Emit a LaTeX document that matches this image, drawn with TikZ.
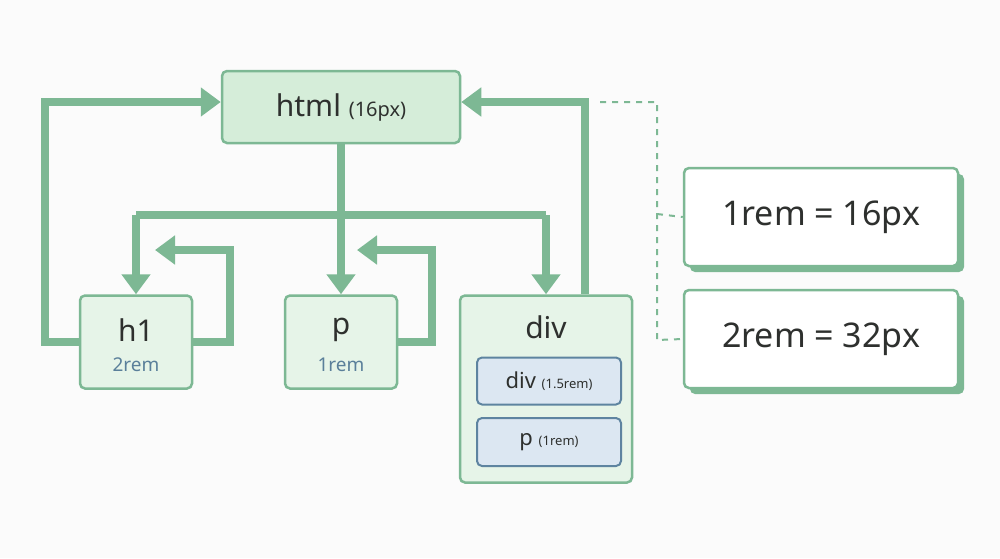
\documentclass[tikz,border=0pt]{standalone}
\usepackage{fontspec}
\setmainfont{Noto Sans}
\usetikzlibrary{arrows.meta}
\definecolor{gline}{HTML}{7DB894}
\definecolor{gfill}{HTML}{D5EDD9}
\definecolor{gfill2}{HTML}{E6F4E8}
\definecolor{bfill}{HTML}{DCE7F2}
\definecolor{bline}{HTML}{5E84A0}
\definecolor{txt}{HTML}{2E302E}
\definecolor{remc}{HTML}{5A7F9A}
\begin{document}
\begin{tikzpicture}[x=1pt,y=-1pt,
  box/.style={draw=gline,line width=2.5pt,rounded corners=5pt,fill=gfill,text=txt,font=\bfseries},
  inner/.style={draw=bline,line width=2pt,rounded corners=5pt,fill=bfill,text=txt,font=\bfseries},
  wire/.style={gline,line width=8pt},
  arr/.style={wire,-{Triangle[length=20pt,width=28pt]}},
  dashedline/.style={gline,line width=2pt,dash pattern=on 6pt off 6pt}]
\useasboundingbox (0,0) rectangle (1000,558);
\fill[white!97!gray] (0,0) rectangle (1000,558);
% boxes
\node[box,minimum width=238pt,minimum height=72pt] (html) at (341,107) {\fontsize{30}{30}\selectfont html \fontsize{20}{20}\selectfont(16px)};
\node[box,fill=gfill2,minimum width=112pt,minimum height=93pt] (h1) at (136,342) {};
\node[font=\bfseries\fontsize{30}{30}\selectfont,text=txt] (h1t) at (136,330) {h1};
\node[font=\bfseries\fontsize{19}{19}\selectfont,text=remc] (h1r) at (136,365) {2rem};
\node[box,fill=gfill2,minimum width=112pt,minimum height=93pt] (p) at (341,342) {};
\node[font=\bfseries\fontsize{30}{30}\selectfont,text=txt] (pt) at (341,330) {p};
\node[font=\bfseries\fontsize{19}{19}\selectfont,text=remc] (pr) at (341,365) {1rem};
\node[box,fill=gfill2,minimum width=172pt,minimum height=187pt] (div) at (546,389) {};
\node[font=\bfseries\fontsize{30}{30}\selectfont,text=txt] (divt) at (546,327) {div};
\node[inner,minimum width=144pt,minimum height=47pt] (idiv) at (549,381) {\fontsize{22}{22}\selectfont div \fontsize{13}{13}\selectfont(1.5rem)};
\node[inner,minimum width=144pt,minimum height=48pt] (ip) at (549,442) {\fontsize{22}{22}\selectfont p \fontsize{13}{13}\selectfont(1rem)};
% right boxes with shadow
\fill[gline,rounded corners=5pt] (690,174) rectangle (964,272);
\node[box,fill=white,minimum width=274pt,minimum height=98pt] (r1) at (821,217) {\fontsize{34}{34}\selectfont 1rem = 16px};
\fill[gline,rounded corners=5pt] (690,296) rectangle (964,394);
\node[box,fill=white,minimum width=274pt,minimum height=98pt] (r2) at (821,339) {\fontsize{34}{34}\selectfont 2rem = 32px};
% connectors
\coordinate (j) at (341,215);
\coordinate (jl) at (136,215);
\coordinate (jr) at (546,215);
\coordinate (y102) at (0,102);
\coordinate (x585) at (585,0);
\draw[wire] (html.south) -- (j);
\draw[wire] (jl) -- (jr);
\draw[arr] (jl) -- (h1.north);
\draw[arr] (j) -- (p.north);
\draw[arr] (jr) -- (div.north);
\draw[arr] (h1.west) -| (45,102) -- (html.west |- y102);
\draw[arr] (h1.east) -| (230,250) -- (155,250);
\draw[arr] (p.east) -| (432,250) -- (357,250);
\draw[arr] (div.north -| x585) |- (html.east |- y102);
% dashed
\draw[dashedline] (600,102) -| (657,340) -- (r2.west);
\draw[dashedline] (657,214) -- (r1.west);
\end{tikzpicture}
\end{document}
